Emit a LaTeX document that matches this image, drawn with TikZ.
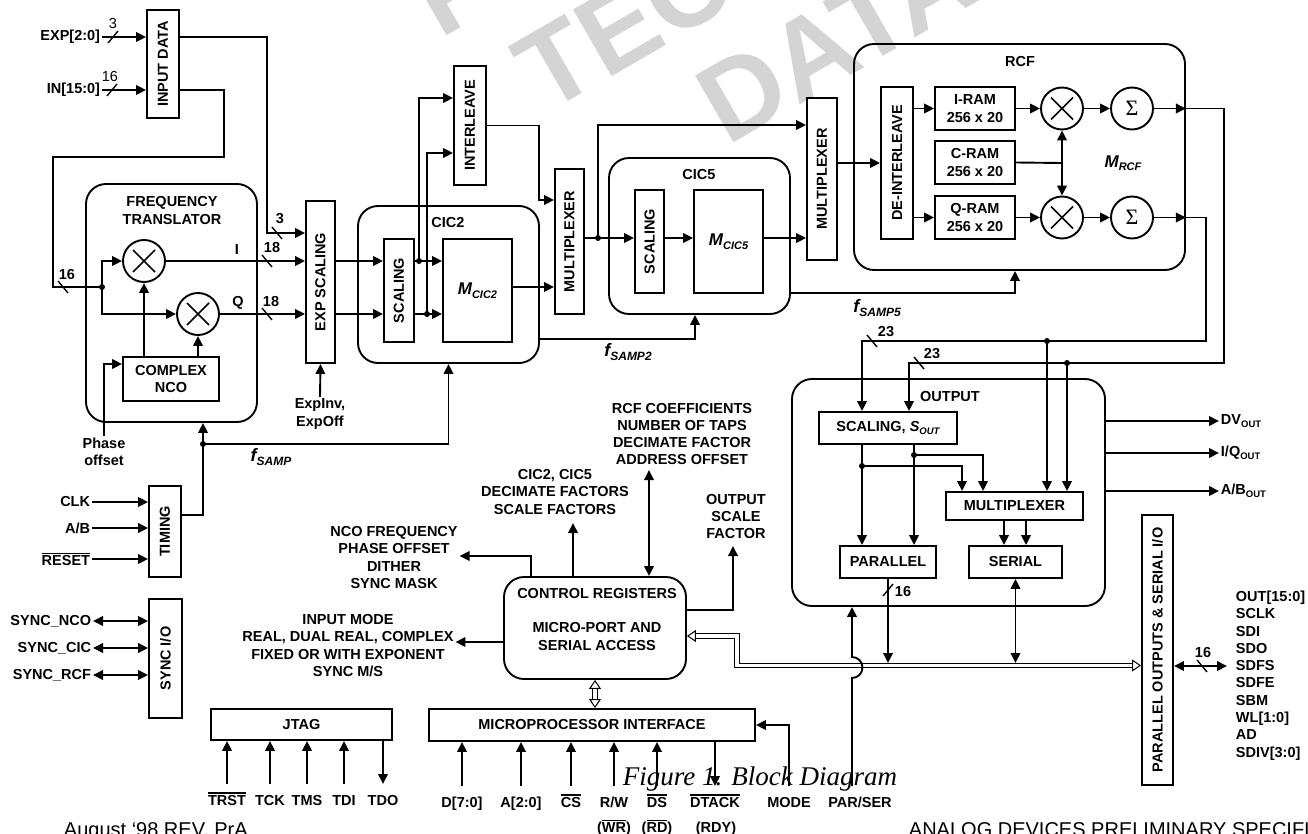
\documentclass[tikz,border=0pt]{standalone}
\usepackage{fontspec}
\usepackage{graphicx}
\setmainfont{Liberation Sans}
\newfontfamily\seriffont{Liberation Serif}
\usetikzlibrary{arrows.meta}

\newcommand{\lbl}{\fontsize{14.5}{17.3}\selectfont\bfseries}
\newcommand{\lblm}{\fontsize{14.5}{17.3}\selectfont}
\newcommand{\Msub}[1]{{\fontsize{17}{17}\selectfont\bfseries\itshape M\raisebox{-3.5pt}{\fontsize{11}{11}\selectfont #1}}}
\newcommand{\fsub}[1]{{\fontsize{18}{18}\selectfont\bfseries\itshape f\raisebox{-4.5pt}{\fontsize{12}{12}\selectfont #1}}}
\newcommand{\osub}[1]{\raisebox{-3pt}{\fontsize{9.5}{9.5}\selectfont #1}}
\newcommand{\ovl}[1]{\leavevmode\vbox{\hrule height 1.2pt\kern 1.3pt\hbox{#1}}}
\newcommand{\sumsign}{{\seriffont\fontsize{22}{22}\selectfont Σ}}

\tikzset{
  slashR/.pic={\draw[line width=1.4pt] (-5,6) -- (5,-6);},
  slashF/.pic={\draw[line width=1.4pt] (-5,-6) -- (5,6);},
}

\begin{document}
\begin{tikzpicture}[x=1pt, y=-1pt, line width=1.9pt,
  arr/.style={-{Triangle[length=10pt,width=9.5pt]}},
  dbl/.style={{Triangle[length=10pt,width=9.5pt]}-{Triangle[length=10pt,width=9.5pt]}},
  hollow/.style={double, double distance=3.5pt, line width=1pt,
    {Triangle[open,length=9pt,width=12pt]}-{Triangle[open,length=9pt,width=12pt]}},
  box/.style={draw, inner sep=0pt, font=\lbl, align=center},
  rbox/.style={box, rounded corners=20pt},
  mix/.style={draw, circle, minimum size=42pt, inner sep=0pt},
  txt/.style={font=\lbl, align=center, inner sep=1pt},
  sig/.style={font=\lbl, inner sep=1pt, text height=11pt, text depth=3pt, outer ysep=9pt, anchor=base},
  jdot/.style={circle, fill, inner sep=0pt, minimum size=6pt},
  wmark/.style={font=\fontsize{112}{112}\selectfont\bfseries, text=black!17, rotate=30, inner sep=0pt, anchor=base west}]
\useasboundingbox (0,0) rectangle (1308,834);
\clip (0,0) rectangle (1308,834);

% watermark
\node[wmark] (wm1) at (440,40) {PRELIMINARY};
\node[wmark] (wm2) at (545,115) {TECHNICAL};
\node[wmark] (wm3) at (727,147) {DATA};

%%%%%%%%%%%%%%%%%%%%%%%%%%%%%%% input data
\node[box, minimum width=32, minimum height=108] (indata) at (163,64) {\rotatebox{90}{INPUT DATA}};
\node[txt, anchor=east] (expl) at (102,37) {EXP[2:0]};
\node[txt, anchor=east] (inl) at (102,90) {IN[15:0]};
\draw[arr] (expl.east) -- (indata.west |- expl.east);
\draw[arr] (inl.east) -- (indata.west |- inl.east);
\pic at (113,37) {slashR};
\node[txt, font=\lblm] (w3a) at (113,24) {3};
\pic at (112,90) {slashR};
\node[txt, font=\lblm] (w16a) at (110,77) {16};

%%%%%%%%%%%%%%%%%%%%%%%%%%%%%%% frequency translator
\node[rbox, minimum width=171, minimum height=238] (freqtr) at (171.5,303) {};
\node[txt] (freqtl) at (172,210.5) {FREQUENCY\\TRANSLATOR};
\node[mix] (mixI) at (144,261) {};
\node[mix] (mixQ) at (198,314) {};
\node[box, minimum width=96, minimum height=44] (nco) at (171,379) {COMPLEX\\NCO};
\node[txt] (phoff) at (104,452) {Phase\\offset};
\node[txt] (ilab) at (237,250) {I};
\node[txt] (qlab) at (238,303) {Q};
\coordinate (k1) at (224,157);
\coordinate (k2) at (53,287);
\coordinate (j16) at (102,287);
\draw (indata.east |- inl.east) -| (k1) -| (k2) -- (j16);
\node[jdot] (j16d) at (j16) {};
\pic at (63,287) {slashF};
\node[txt] (w16b) at (67,275) {16};
\draw[arr] (j16) |- (mixI.west);
\draw[arr] (j16) |- (mixQ.west);
\draw[arr] (nco.north -| mixI) -- (mixI.south);
\draw[arr] (nco.north -| mixQ) -- (mixQ.south);
\coordinate (ph) at (104,364);
\draw[arr] (phoff.north) -- (ph) -- (nco.west |- ph);

%%%%%%%%%%%%%%%%%%%%%%%%%%%%%%% exp scaling
\node[box, minimum width=29, minimum height=162] (expsc) at (320.5,282) {\rotatebox{90}{EXP SCALING}};
\coordinate (e1) at (267,233);
\draw[arr] (indata.east |- expl.east) -| (e1) -- (expsc.west |- e1);
\pic at (277,233) {slashF};
\node[txt] (w3b) at (280,219) {3};
\draw[arr] (mixI.east) -- (expsc.west |- mixI);
\pic at (267,261) {slashF};
\node[txt] (w18a) at (272,248) {18};
\draw[arr] (mixQ.east) -- (expsc.west |- mixQ);
\pic at (267,314) {slashF};
\node[txt] (w18b) at (271,302) {18};
\node[txt] (expinv) at (320,414) {ExpInv,\\ExpOff};
\draw[arr] (expinv.north) -- (expsc.south);

%%%%%%%%%%%%%%%%%%%%%%%%%%%%%%% timing and sync
\node[box, minimum width=32, minimum height=91] (timing) at (165,531.5) {\rotatebox{90}{TIMING}};
\node[txt, anchor=east] (clk) at (92,502) {CLK};
\node[txt, anchor=east] (ab) at (92,528) {A/B};
\node[txt, anchor=east] (rst) at (92,559) {\ovl{RESET}};
\foreach \s in {clk,ab,rst}
  \draw[arr] (\s.east) -- (timing.west |- \s.east);
\coordinate (fs) at (203,444);
\draw[arr] ([yshift=16.5pt]timing.east) -| (fs) -- (freqtr.south -| fs);
\node[jdot] (fsd) at (fs) {};
\node[txt] (fsl) at (271,457) {\fsub{SAMP}};
\node[box, minimum width=33, minimum height=119] (syncio) at (165.5,658.5) {\rotatebox{90}{SYNC I/O}};
\node[txt, anchor=east] (snco) at (93,621) {SYNC\_NCO};
\node[txt, anchor=east] (scic) at (93,648) {SYNC\_CIC};
\node[txt, anchor=east] (srcf) at (93,675) {SYNC\_RCF};
\foreach \s in {snco,scic,srcf}
  \draw[dbl] (\s.east) -- (syncio.west |- \s.east);

%%%%%%%%%%%%%%%%%%%%%%%%%%%%%%% CIC2
\node[rbox, minimum width=181, minimum height=157] (cic2) at (448.5,284.5) {};
\node[txt] (cic2t) at (448,223) {CIC2};
\node[box, minimum width=30, minimum height=103] (sc2) at (399,290.5) {\rotatebox{90}{SCALING}};
\node[box, minimum width=69, minimum height=103] (m2) at (477.5,290.5) {\Msub{CIC2}};
\draw[arr] (fs) -| (cic2.south);
\draw[arr] (expsc.east |- mixI) -- (sc2.west |- mixI);
\draw[arr] (expsc.east |- mixQ) -- (sc2.west |- mixQ);
\coordinate (d2a) at (419,261);
\coordinate (d2b) at (427,314);
\draw[arr] (sc2.east |- d2a) -- (m2.west |- d2a);
\draw[arr] (sc2.east |- d2b) -- (m2.west |- d2b);
\node[jdot] (d2ad) at (d2a) {};
\node[jdot] (d2bd) at (d2b) {};

%%%%%%%%%%%%%%%%%%%%%%%%%%%%%%% interleave / multiplexer
\node[box, minimum width=32, minimum height=119] (interl) at (470,125.5) {\rotatebox{90}{INTERLEAVE}};
\draw[arr] (d2a) |- ([yshift=27.5pt]interl.west);
\draw[arr] (d2b) |- ([yshift=-27.5pt]interl.west);
\node[box, minimum width=29, minimum height=145] (mux1) at (569.5,241.5) {\rotatebox{90}{MULTIPLEXER}};
\coordinate (b1) at (539,200);
\coordinate (b2) at (0,287);
\draw[arr] (interl.east) -| (b1) -- (mux1.west |- b1);
\draw[arr] (m2.east |- b2) -- (mux1.west |- b2);

%%%%%%%%%%%%%%%%%%%%%%%%%%%%%%% CIC5
\node[rbox, minimum width=181, minimum height=156] (cic5) at (699.5,236) {};
\node[txt] (cic5t) at (699,175) {CIC5};
\node[box, minimum width=29, minimum height=103] (sc5) at (649.5,241.5) {\rotatebox{90}{SCALING}};
\node[box, minimum width=69, minimum height=103] (m5) at (728.5,241.5) {\Msub{CIC5}};
\coordinate (b5) at (0,339);
\draw[arr] (cic2.east |- b5) -| ([xshift=-4.5pt]cic5.south);
\node[txt] (fs2l) at (628,352) {\fsub{SAMP2}};
\coordinate (d5) at (598,238);
\draw (mux1.east |- d5) -- (d5);
\draw[arr] (d5) -- (sc5.west |- d5);
\node[jdot] (d5d) at (d5) {};
\draw[arr] (sc5.east |- d5) -- (m5.west |- d5);
\node[box, minimum width=30, minimum height=162] (mux2) at (822,179) {\rotatebox{90}{MULTIPLEXER}};
\draw[arr] (m5.east |- d5) -- (mux2.west |- d5);
\coordinate (b3) at (0,125);
\draw[arr] (d5) |- (mux2.west |- b3);

%%%%%%%%%%%%%%%%%%%%%%%%%%%%%%% RCF
\node[rbox, minimum width=331, minimum height=226] (rcf) at (1019.5,157) {};
\node[txt] (rcft) at (1020,62) {RCF};
\coordinate (b6) at (0,293);
\draw[arr] (cic5.east |- b6) -| ([xshift=-4.5pt]rcf.south);
\node[txt] (fs5l) at (877,308) {\fsub{SAMP5}};
\node[box, minimum width=32, minimum height=152] (deint) at (897,163) {\rotatebox{90}{DE-INTERLEAVE}};
\node[box, minimum width=80, minimum height=43] (iram) at (975,108.5) {I-RAM\\256 x 20};
\node[box, minimum width=80, minimum height=43] (cram) at (975,162.5) {C-RAM\\256 x 20};
\node[box, minimum width=80, minimum height=43] (qram) at (975,217.5) {Q-RAM\\256 x 20};
\coordinate (b4) at (0,163);
\draw[arr] (mux2.east |- b4) -- (deint.west |- b4);
\draw[arr] (deint.east |- iram) -- (iram.west);
\draw[arr] (deint.east |- qram) -- (qram.west);
\node[mix] (mixRI) at (1062,108.5) {};
\node[mix] (mixRQ) at (1062,217.5) {};
\node[mix] (sumI) at (1132,108.5) {\sumsign};
\node[mix] (sumQ) at (1132,217.5) {\sumsign};
\node[txt] (mrcf) at (1123,163) {\Msub{RCF}};
\draw[arr] (iram.east) -- (mixRI.west);
\draw[arr] (qram.east) -- (mixRQ.west);
\coordinate (cj) at (1062,163);
\draw (cram.east) -- (cj);
\draw[arr] (cj) -- (mixRI.south);
\draw[arr] (cj) -- (mixRQ.north);
\draw[arr] (mixRI.east) -- (sumI.west);
\draw[arr] (mixRQ.east) -- (sumQ.west);
\draw[arr] (sumI.east) -- (rcf.east |- sumI);
\draw[arr] (sumQ.east) -- (rcf.east |- sumQ);
\foreach \m in {mixI,mixQ,mixRI,mixRQ}
  \draw[line width=1.5pt] ([shift={(-11,-11)}]\m.center) -- ([shift={(11,11)}]\m.center)
    ([shift={(-11,11)}]\m.center) -- ([shift={(11,-11)}]\m.center);

%%%%%%%%%%%%%%%%%%%%%%%%%%%%%%% output
\node[rbox, minimum width=313, minimum height=227] (output) at (948.5,492.5) {};
\node[txt] (outt) at (950,397) {OUTPUT};
\node[box, minimum width=138, minimum height=32] (scout) at (888,428) {SCALING, {\itshape S\osub{OUT}}};
\node[box, minimum width=137, minimum height=28] (omux) at (1014.5,506) {MULTIPLEXER};
\node[box, minimum width=96, minimum height=32] (par) at (888,562) {PARALLEL};
\node[box, minimum width=93, minimum height=32] (ser) at (1015.5,562) {SERIAL};
\coordinate (oI) at (1224,363);
\coordinate (sI) at (909,363);
\coordinate (oQ) at (1206,341);
\coordinate (sQ) at (862,341);
\draw[arr] (rcf.east |- sumI) -| (oI) -- (sI) -- (scout.north -| sI);
\draw[arr] (rcf.east |- sumQ) -| (oQ) -- (sQ) -- (scout.north -| sQ);
\pic at (872,341) {slashF};
\node[txt] (w23a) at (886,332) {23};
\pic at (919,363) {slashF};
\node[txt] (w23b) at (932,354) {23};
\coordinate (dQ) at (1047,341);
\coordinate (dI) at (1067,363);
\draw[arr] (dQ) -- (omux.north -| dQ);
\draw[arr] (dI) -- (omux.north -| dI);
\node[jdot] (dQd) at (dQ) {};
\node[jdot] (dId) at (dI) {};
\coordinate (dL) at (862,466);
\coordinate (dR) at (914,455);
\coordinate (mL) at (962,466);
\coordinate (mR) at (983,455);
\draw[arr] (scout.south -| dL) -- (par.north -| dL);
\draw[arr] (scout.south -| dR) -- (par.north -| dR);
\draw[arr] (dL) -- (mL) -- (omux.north -| mL);
\draw[arr] (dR) -- (mR) -- (omux.north -| mR);
\node[jdot] (dLd) at (dL) {};
\node[jdot] (dRd) at (dR) {};
\coordinate (sx1) at (1004,0);
\coordinate (sx2) at (1026,0);
\draw[arr] (omux.south -| sx1) -- (ser.north -| sx1);
\draw[arr] (omux.south -| sx2) -- (ser.north -| sx2);
\node[txt, anchor=west] (dvout) at (1219,421) {DV\osub{OUT}};
\node[txt, anchor=west] (iqout) at (1219,453) {I/Q\osub{OUT}};
\node[txt, anchor=west] (about) at (1219,491) {A/B\osub{OUT}};
\foreach \s in {dvout,iqout,about}
  \draw[arr] (output.east |- \s.west) -- (\s.west);

%%%%%%%%%%%%%%%%%%%%%%%%%%%%%%% parallel outputs and serial I/O
\node[box, minimum width=31, minimum height=270] (pario) at (1157.5,650) {\rotatebox{90}{PARALLEL OUTPUTS \& SERIAL I/O}};
\node[txt, align=left, anchor=north west] (pins) at (1234,589) {OUT[15:0]\\SCLK\\SDI\\SDO\\SDFS\\SDFE\\SBM\\WL[1:0]\\AD\\SDIV[3:0]};
\coordinate (pio) at (1227,666);
\draw[dbl] (pario.east |- pio) -- (pio);
\pic at (1202,666) {slashF};
\node[txt] (w16d) at (1203,653) {16};

%%%%%%%%%%%%%%%%%%%%%%%%%%%%%%% control registers
\node[rbox, minimum width=182, minimum height=102] (ctrl) at (595,628) {};
\node[txt] (ctrlt) at (597,594) {CONTROL REGISTERS};
\node[txt] (ctrls) at (597,636.5) {MICRO-PORT AND\\SERIAL ACCESS};
\node[txt] (ncof) at (394,557.5) {NCO FREQUENCY\\PHASE OFFSET\\DITHER\\SYNC MASK};
\node[txt] (cicf) at (555,492) {CIC2, CIC5\\DECIMATE FACTORS\\SCALE FACTORS};
\node[txt] (rcfl) at (682,434) {RCF COEFFICIENTS\\NUMBER OF TAPS\\DECIMATE FACTOR\\ADDRESS OFFSET};
\node[txt] (osf) at (736,516.5) {OUTPUT\\SCALE\\FACTOR};
\node[txt] (inmode) at (348,645.5) {INPUT MODE\\REAL, DUAL REAL, COMPLEX\\FIXED OR WITH EXPONENT\\SYNC M/S};
\coordinate (c1) at (531,556);
\coordinate (c2) at (573,523);
\coordinate (c3) at (649,470);
\coordinate (c4) at (733,546);
\coordinate (c4b) at (733,610);
\coordinate (c5) at (0,642);
\draw[arr] (ctrl.north -| c1) -- (c1) -- (ncof.east |- c1);
\draw[arr] (ctrl.north -| c2) -- (c2);
\draw[dbl] (c3) -- (ctrl.north -| c3);
\draw[arr] (ctrl.east |- c4b) -- (c4b) -- (c4);
\draw[arr] (ctrl.west |- c5) -- (inmode.east |- c5);

%%%%%%%%%%%%%%%%%%%%%%%%%%%%%%% busses
\coordinate (bu1) at (737,636);
\coordinate (bu2) at (737,665.5);
\coordinate (bt) at (0,663);
\draw[hollow] (ctrl.east |- bu1) -- (bu1) -- (bu2) -- (pario.west |- bu2);
\draw[arr] (par.south) -- (par.south |- bt);
\pic at (888,590) {slashR};
\node[txt] (w16c) at (903,592) {16};
\draw[dbl] (ser.south) -- (ser.south |- bt);

%%%%%%%%%%%%%%%%%%%%%%%%%%%%%%% JTAG and microprocessor interface
\node[box, minimum width=326, minimum height=32] (mpi) at (592,725) {MICROPROCESSOR INTERFACE};
\draw[hollow] (ctrl.south) -- (ctrl.south |- mpi.north);
\node[box, minimum width=181, minimum height=31] (jtag) at (301.5,724.5) {JTAG};
\node[sig] (trst) at (227,805) {\ovl{TRST}};
\node[sig] (tck) at (270,805) {TCK};
\node[sig] (tms) at (307,805) {TMS};
\node[sig] (tdi) at (344,805) {TDI};
\node[sig] (tdo) at (383,805) {TDO};
\foreach \s in {trst,tck,tms,tdi}
  \draw[arr] (\s.north) -- (jtag.south -| \s.north);
\draw[arr] (jtag.south -| tdo.north) -- (tdo.north);
\node[sig] (d70) at (462,807) {D[7:0]};
\node[sig] (a20) at (521,807) {A[2:0]};
\node[sig] (cs) at (571,807) {\ovl{CS}};
\node[sig] (rw) at (614,807) {R/W};
\node[sig] (wr) at (614,832) {(\ovl{WR})};
\node[sig] (ds) at (657,807) {\ovl{DS}};
\node[sig] (rd) at (657,832) {(\ovl{RD})};
\node[sig] (dtack) at (715,807) {\ovl{DTACK}};
\node[sig] (rdy) at (716,832) {(RDY)};
\node[sig] (mode) at (789,807) {MODE};
\node[sig] (parser) at (860,807) {PAR/SER};
\foreach \s in {d70,a20,cs,rw,ds}
  \draw[arr] (\s.north) -- (mpi.south -| \s.north);
\draw[arr] (mpi.south -| dtack.north) -- (dtack.north);
\draw[arr] (mode.north) |- (mpi.east);
\coordinate (hop) at (852,678);
\draw[arr] (hop |- parser.north) -- (hop) arc[start angle=-90, end angle=90, radius=10.5pt] -- (output.south -| hop);

%%%%%%%%%%%%%%%%%%%%%%%%%%%%%%% caption and footer
\node[font=\seriffont\itshape\fontsize{27}{27}\selectfont, anchor=base west, inner sep=0pt] (caption) at (622,785) {Figure 1. Block Diagram};
\node[font=\fontsize{20}{20}\selectfont, anchor=base west, inner sep=0pt] (foot1) at (63,836) {August ‘98 REV. PrA};
\node[font=\fontsize{20}{20}\selectfont, anchor=base west, inner sep=0pt] (foot2) at (908,836) {ANALOG DEVICES PRELIMINARY SPECIFICATIONS};
\end{tikzpicture}
\end{document}
